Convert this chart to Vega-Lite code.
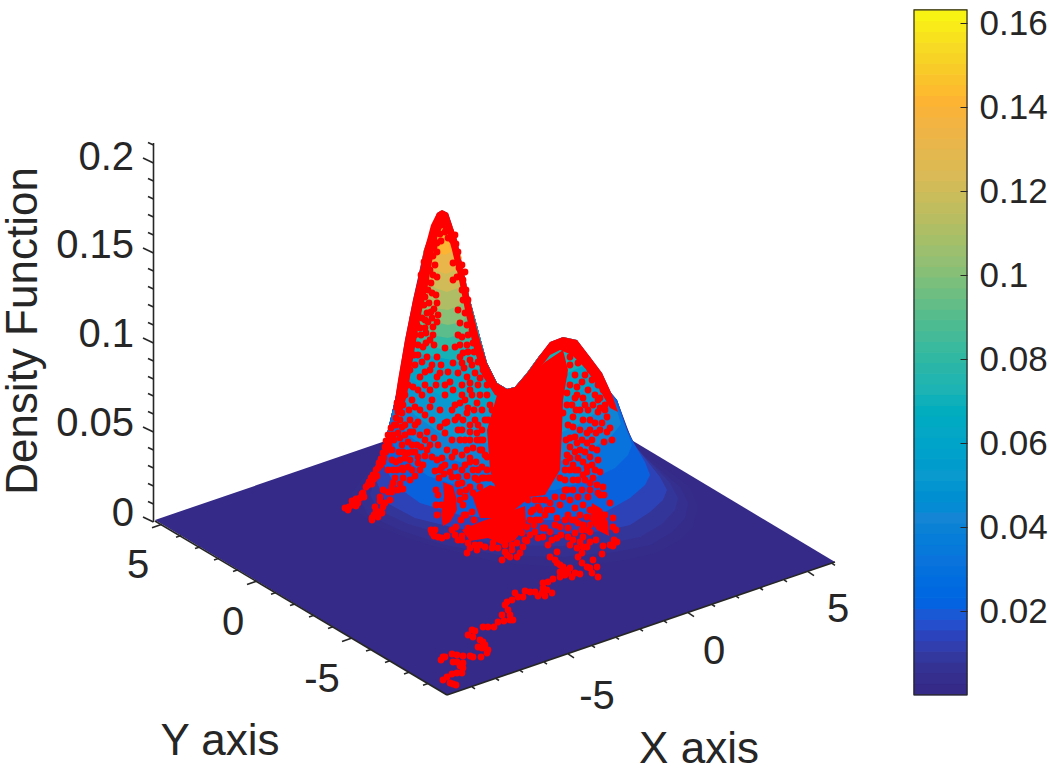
{"$schema":"https://vega.github.io/schema/vega-lite/v6.json","padding":0,"spacing":0,"background":"white","config":{"view":{"stroke":null},"font":"Liberation Sans","text":{"font":"Liberation Sans"},"concat":{"spacing":0}},
"datasets":{
"floor":[{"p":"floor","l":0.0003,"i":0,"u":155,"v":520},{"p":"floor","l":0.0003,"i":1,"u":447,"v":695},{"p":"floor","l":0.0003,"i":2,"u":835,"v":562},{"p":"floor","l":0.0003,"i":3,"u":543,"v":387},
{"p":"a","l":0.0015,"i":0,"u":352,"v":492},{"p":"a","l":0.0015,"i":1,"u":350,"v":503},{"p":"a","l":0.0015,"i":2,"u":358,"v":512},{"p":"a","l":0.0015,"i":3,"u":375,"v":525},{"p":"a","l":0.0015,"i":4,"u":407,"v":538},{"p":"a","l":0.0015,"i":5,"u":430,"v":545},{"p":"a","l":0.0015,"i":6,"u":500,"v":563},{"p":"a","l":0.0015,"i":7,"u":560,"v":567},{"p":"a","l":0.0015,"i":8,"u":620,"v":561},{"p":"a","l":0.0015,"i":9,"u":657,"v":553},{"p":"a","l":0.0015,"i":10,"u":680,"v":540},{"p":"a","l":0.0015,"i":11,"u":693,"v":527},{"p":"a","l":0.0015,"i":12,"u":698,"v":507},{"p":"a","l":0.0015,"i":13,"u":690,"v":487},{"p":"a","l":0.0015,"i":14,"u":667,"v":470},{"p":"a","l":0.0015,"i":15,"u":645,"v":455},{"p":"a","l":0.0015,"i":16,"u":635,"v":445},{"p":"a","l":0.0015,"i":17,"u":623,"v":420},{"p":"a","l":0.0015,"i":18,"u":613,"v":397},{"p":"a","l":0.0015,"i":19,"u":602,"v":373},{"p":"a","l":0.0015,"i":20,"u":590,"v":357},{"p":"a","l":0.0015,"i":21,"u":577,"v":340},{"p":"a","l":0.0015,"i":22,"u":563,"v":337},{"p":"a","l":0.0015,"i":23,"u":550,"v":342},{"p":"a","l":0.0015,"i":24,"u":540,"v":355},{"p":"a","l":0.0015,"i":25,"u":527,"v":373},{"p":"a","l":0.0015,"i":26,"u":515,"v":387},{"p":"a","l":0.0015,"i":27,"u":507,"v":389},{"p":"a","l":0.0015,"i":28,"u":497,"v":383},{"p":"a","l":0.0015,"i":29,"u":487,"v":363},{"p":"a","l":0.0015,"i":30,"u":478,"v":333},{"p":"a","l":0.0015,"i":31,"u":470,"v":300},{"p":"a","l":0.0015,"i":32,"u":457,"v":240},{"p":"a","l":0.0015,"i":33,"u":448,"v":213},{"p":"a","l":0.0015,"i":34,"u":442,"v":210},{"p":"a","l":0.0015,"i":35,"u":437,"v":213},{"p":"a","l":0.0015,"i":36,"u":424,"v":250},{"p":"a","l":0.0015,"i":37,"u":413,"v":300},{"p":"a","l":0.0015,"i":38,"u":405,"v":340},{"p":"a","l":0.0015,"i":39,"u":395,"v":400},{"p":"a","l":0.0015,"i":40,"u":385,"v":442},{"p":"a","l":0.0015,"i":41,"u":370,"v":470},
{"p":"b","l":0.004,"i":0,"u":360,"v":500},{"p":"b","l":0.004,"i":1,"u":368,"v":515},{"p":"b","l":0.004,"i":2,"u":400,"v":530},{"p":"b","l":0.004,"i":3,"u":445,"v":545},{"p":"b","l":0.004,"i":4,"u":500,"v":555},{"p":"b","l":0.004,"i":5,"u":560,"v":557},{"p":"b","l":0.004,"i":6,"u":615,"v":552},{"p":"b","l":0.004,"i":7,"u":650,"v":545},{"p":"b","l":0.004,"i":8,"u":672,"v":532},{"p":"b","l":0.004,"i":9,"u":685,"v":518},{"p":"b","l":0.004,"i":10,"u":688,"v":503},{"p":"b","l":0.004,"i":11,"u":680,"v":487},{"p":"b","l":0.004,"i":12,"u":660,"v":470},{"p":"b","l":0.004,"i":13,"u":642,"v":455},{"p":"b","l":0.004,"i":14,"u":633,"v":443},{"p":"b","l":0.004,"i":15,"u":617,"v":400},{"p":"b","l":0.004,"i":16,"u":563,"v":337},{"p":"b","l":0.004,"i":17,"u":540,"v":355},{"p":"b","l":0.004,"i":18,"u":527,"v":373},{"p":"b","l":0.004,"i":19,"u":515,"v":387},{"p":"b","l":0.004,"i":20,"u":507,"v":389},{"p":"b","l":0.004,"i":21,"u":497,"v":383},{"p":"b","l":0.004,"i":22,"u":487,"v":363},{"p":"b","l":0.004,"i":23,"u":470,"v":300},{"p":"b","l":0.004,"i":24,"u":442,"v":210},{"p":"b","l":0.004,"i":25,"u":395,"v":400},{"p":"b","l":0.004,"i":26,"u":385,"v":442},{"p":"b","l":0.004,"i":27,"u":372,"v":472},
{"p":"c","l":0.007,"i":0,"u":370,"v":495},{"p":"c","l":0.007,"i":1,"u":378,"v":510},{"p":"c","l":0.007,"i":2,"u":408,"v":524},{"p":"c","l":0.007,"i":3,"u":450,"v":536},{"p":"c","l":0.007,"i":4,"u":500,"v":545},{"p":"c","l":0.007,"i":5,"u":560,"v":546},{"p":"c","l":0.007,"i":6,"u":610,"v":543},{"p":"c","l":0.007,"i":7,"u":640,"v":537},{"p":"c","l":0.007,"i":8,"u":662,"v":524},{"p":"c","l":0.007,"i":9,"u":675,"v":510},{"p":"c","l":0.007,"i":10,"u":678,"v":498},{"p":"c","l":0.007,"i":11,"u":670,"v":483},{"p":"c","l":0.007,"i":12,"u":655,"v":467},{"p":"c","l":0.007,"i":13,"u":640,"v":452},{"p":"c","l":0.007,"i":14,"u":631,"v":440},{"p":"c","l":0.007,"i":15,"u":617,"v":400},{"p":"c","l":0.007,"i":16,"u":563,"v":337},{"p":"c","l":0.007,"i":17,"u":540,"v":355},{"p":"c","l":0.007,"i":18,"u":527,"v":373},{"p":"c","l":0.007,"i":19,"u":515,"v":387},{"p":"c","l":0.007,"i":20,"u":507,"v":389},{"p":"c","l":0.007,"i":21,"u":497,"v":383},{"p":"c","l":0.007,"i":22,"u":487,"v":363},{"p":"c","l":0.007,"i":23,"u":470,"v":300},{"p":"c","l":0.007,"i":24,"u":442,"v":210},{"p":"c","l":0.007,"i":25,"u":395,"v":400},{"p":"c","l":0.007,"i":26,"u":385,"v":442},
{"p":"d","l":0.012,"i":0,"u":376,"v":480},{"p":"d","l":0.012,"i":1,"u":385,"v":502},{"p":"d","l":0.012,"i":2,"u":415,"v":518},{"p":"d","l":0.012,"i":3,"u":455,"v":528},{"p":"d","l":0.012,"i":4,"u":505,"v":534},{"p":"d","l":0.012,"i":5,"u":560,"v":534},{"p":"d","l":0.012,"i":6,"u":605,"v":531},{"p":"d","l":0.012,"i":7,"u":630,"v":525},{"p":"d","l":0.012,"i":8,"u":650,"v":512},{"p":"d","l":0.012,"i":9,"u":663,"v":500},{"p":"d","l":0.012,"i":10,"u":667,"v":490},{"p":"d","l":0.012,"i":11,"u":660,"v":477},{"p":"d","l":0.012,"i":12,"u":648,"v":462},{"p":"d","l":0.012,"i":13,"u":636,"v":447},{"p":"d","l":0.012,"i":14,"u":628,"v":435},{"p":"d","l":0.012,"i":15,"u":617,"v":400},{"p":"d","l":0.012,"i":16,"u":563,"v":337},{"p":"d","l":0.012,"i":17,"u":540,"v":355},{"p":"d","l":0.012,"i":18,"u":527,"v":373},{"p":"d","l":0.012,"i":19,"u":515,"v":387},{"p":"d","l":0.012,"i":20,"u":507,"v":389},{"p":"d","l":0.012,"i":21,"u":497,"v":383},{"p":"d","l":0.012,"i":22,"u":487,"v":363},{"p":"d","l":0.012,"i":23,"u":470,"v":300},{"p":"d","l":0.012,"i":24,"u":442,"v":210},{"p":"d","l":0.012,"i":25,"u":395,"v":400},
{"p":"e","l":0.02,"i":0,"u":381,"v":460},{"p":"e","l":0.02,"i":1,"u":395,"v":485},{"p":"e","l":0.02,"i":2,"u":420,"v":503},{"p":"e","l":0.02,"i":3,"u":460,"v":515},{"p":"e","l":0.02,"i":4,"u":505,"v":520},{"p":"e","l":0.02,"i":5,"u":555,"v":520},{"p":"e","l":0.02,"i":6,"u":605,"v":512},{"p":"e","l":0.02,"i":7,"u":630,"v":498},{"p":"e","l":0.02,"i":8,"u":645,"v":485},{"p":"e","l":0.02,"i":9,"u":650,"v":475},{"p":"e","l":0.02,"i":10,"u":645,"v":462},{"p":"e","l":0.02,"i":11,"u":636,"v":447},{"p":"e","l":0.02,"i":12,"u":627,"v":430},{"p":"e","l":0.02,"i":13,"u":617,"v":400},{"p":"e","l":0.02,"i":14,"u":563,"v":337},{"p":"e","l":0.02,"i":15,"u":540,"v":355},{"p":"e","l":0.02,"i":16,"u":527,"v":373},{"p":"e","l":0.02,"i":17,"u":515,"v":387},{"p":"e","l":0.02,"i":18,"u":507,"v":389},{"p":"e","l":0.02,"i":19,"u":497,"v":383},{"p":"e","l":0.02,"i":20,"u":487,"v":363},{"p":"e","l":0.02,"i":21,"u":470,"v":300},{"p":"e","l":0.02,"i":22,"u":442,"v":210},{"p":"e","l":0.02,"i":23,"u":395,"v":400},
{"p":"f","l":0.03,"i":0,"u":387,"v":435},{"p":"f","l":0.03,"i":1,"u":402,"v":458},{"p":"f","l":0.03,"i":2,"u":428,"v":476},{"p":"f","l":0.03,"i":3,"u":465,"v":488},{"p":"f","l":0.03,"i":4,"u":510,"v":492},{"p":"f","l":0.03,"i":5,"u":555,"v":490},{"p":"f","l":0.03,"i":6,"u":590,"v":480},{"p":"f","l":0.03,"i":7,"u":615,"v":468},{"p":"f","l":0.03,"i":8,"u":628,"v":455},{"p":"f","l":0.03,"i":9,"u":632,"v":445},{"p":"f","l":0.03,"i":10,"u":626,"v":428},{"p":"f","l":0.03,"i":11,"u":615,"v":400},{"p":"f","l":0.03,"i":12,"u":563,"v":337},{"p":"f","l":0.03,"i":13,"u":540,"v":355},{"p":"f","l":0.03,"i":14,"u":527,"v":373},{"p":"f","l":0.03,"i":15,"u":515,"v":387},{"p":"f","l":0.03,"i":16,"u":507,"v":389},{"p":"f","l":0.03,"i":17,"u":497,"v":383},{"p":"f","l":0.03,"i":18,"u":487,"v":363},{"p":"f","l":0.03,"i":19,"u":470,"v":300},{"p":"f","l":0.03,"i":20,"u":442,"v":210},{"p":"f","l":0.03,"i":21,"u":395,"v":400},
{"p":"g","l":0.04,"i":0,"u":392,"v":415},{"p":"g","l":0.04,"i":1,"u":408,"v":435},{"p":"g","l":0.04,"i":2,"u":435,"v":455},{"p":"g","l":0.04,"i":3,"u":470,"v":465},{"p":"g","l":0.04,"i":4,"u":510,"v":468},{"p":"g","l":0.04,"i":5,"u":550,"v":465},{"p":"g","l":0.04,"i":6,"u":585,"v":452},{"p":"g","l":0.04,"i":7,"u":610,"v":438},{"p":"g","l":0.04,"i":8,"u":621,"v":424},{"p":"g","l":0.04,"i":9,"u":613,"v":397},{"p":"g","l":0.04,"i":10,"u":563,"v":337},{"p":"g","l":0.04,"i":11,"u":540,"v":355},{"p":"g","l":0.04,"i":12,"u":527,"v":373},{"p":"g","l":0.04,"i":13,"u":515,"v":387},{"p":"g","l":0.04,"i":14,"u":507,"v":389},{"p":"g","l":0.04,"i":15,"u":497,"v":383},{"p":"g","l":0.04,"i":16,"u":487,"v":363},{"p":"g","l":0.04,"i":17,"u":470,"v":300},{"p":"g","l":0.04,"i":18,"u":442,"v":210},
{"p":"h","l":0.05,"i":0,"u":396,"v":395},{"p":"h","l":0.05,"i":1,"u":415,"v":415},{"p":"h","l":0.05,"i":2,"u":440,"v":433},{"p":"h","l":0.05,"i":3,"u":475,"v":442},{"p":"h","l":0.05,"i":4,"u":510,"v":445},{"p":"h","l":0.05,"i":5,"u":545,"v":440},{"p":"h","l":0.05,"i":6,"u":578,"v":425},{"p":"h","l":0.05,"i":7,"u":600,"v":410},{"p":"h","l":0.05,"i":8,"u":611,"v":395},{"p":"h","l":0.05,"i":9,"u":602,"v":373},{"p":"h","l":0.05,"i":10,"u":563,"v":337},{"p":"h","l":0.05,"i":11,"u":540,"v":355},{"p":"h","l":0.05,"i":12,"u":527,"v":373},{"p":"h","l":0.05,"i":13,"u":515,"v":387},{"p":"h","l":0.05,"i":14,"u":507,"v":389},{"p":"h","l":0.05,"i":15,"u":497,"v":383},{"p":"h","l":0.05,"i":16,"u":487,"v":363},{"p":"h","l":0.05,"i":17,"u":470,"v":300},{"p":"h","l":0.05,"i":18,"u":442,"v":210},
{"p":"j","l":0.06,"i":0,"u":401,"v":372},{"p":"j","l":0.06,"i":1,"u":420,"v":385},{"p":"j","l":0.06,"i":2,"u":450,"v":400},{"p":"j","l":0.06,"i":3,"u":480,"v":410},{"p":"j","l":0.06,"i":4,"u":510,"v":412},{"p":"j","l":0.06,"i":5,"u":540,"v":408},{"p":"j","l":0.06,"i":6,"u":570,"v":397},{"p":"j","l":0.06,"i":7,"u":590,"v":385},{"p":"j","l":0.06,"i":8,"u":600,"v":372},{"p":"j","l":0.06,"i":9,"u":590,"v":357},{"p":"j","l":0.06,"i":10,"u":563,"v":337},{"p":"j","l":0.06,"i":11,"u":540,"v":355},{"p":"j","l":0.06,"i":12,"u":527,"v":373},{"p":"j","l":0.06,"i":13,"u":515,"v":387},{"p":"j","l":0.06,"i":14,"u":507,"v":389},{"p":"j","l":0.06,"i":15,"u":497,"v":383},{"p":"j","l":0.06,"i":16,"u":487,"v":363},{"p":"j","l":0.06,"i":17,"u":470,"v":300},{"p":"j","l":0.06,"i":18,"u":442,"v":210},
{"p":"k","l":0.07,"i":0,"u":405,"v":352},{"p":"k","l":0.07,"i":1,"u":425,"v":355},{"p":"k","l":0.07,"i":2,"u":452,"v":360},{"p":"k","l":0.07,"i":3,"u":480,"v":370},{"p":"k","l":0.07,"i":4,"u":486,"v":362},{"p":"k","l":0.07,"i":5,"u":470,"v":300},{"p":"k","l":0.07,"i":6,"u":442,"v":210},{"p":"k","l":0.07,"i":7,"u":424,"v":250},
{"p":"k2","l":0.07,"i":0,"u":525,"v":375},{"p":"k2","l":0.07,"i":1,"u":545,"v":378},{"p":"k2","l":0.07,"i":2,"u":570,"v":372},{"p":"k2","l":0.07,"i":3,"u":592,"v":362},{"p":"k2","l":0.07,"i":4,"u":577,"v":340},{"p":"k2","l":0.07,"i":5,"u":563,"v":337},{"p":"k2","l":0.07,"i":6,"u":540,"v":355},
{"p":"m","l":0.08,"i":0,"u":410,"v":335},{"p":"m","l":0.08,"i":1,"u":425,"v":345},{"p":"m","l":0.08,"i":2,"u":445,"v":350},{"p":"m","l":0.08,"i":3,"u":470,"v":345},{"p":"m","l":0.08,"i":4,"u":480,"v":340},{"p":"m","l":0.08,"i":5,"u":470,"v":300},{"p":"m","l":0.08,"i":6,"u":442,"v":210},{"p":"m","l":0.08,"i":7,"u":424,"v":250},
{"p":"n","l":0.09,"i":0,"u":413,"v":322},{"p":"n","l":0.09,"i":1,"u":430,"v":335},{"p":"n","l":0.09,"i":2,"u":448,"v":338},{"p":"n","l":0.09,"i":3,"u":465,"v":333},{"p":"n","l":0.09,"i":4,"u":476,"v":328},{"p":"n","l":0.09,"i":5,"u":470,"v":300},{"p":"n","l":0.09,"i":6,"u":442,"v":210},{"p":"n","l":0.09,"i":7,"u":424,"v":250},
{"p":"o","l":0.1,"i":0,"u":417,"v":305},{"p":"o","l":0.1,"i":1,"u":435,"v":322},{"p":"o","l":0.1,"i":2,"u":448,"v":325},{"p":"o","l":0.1,"i":3,"u":462,"v":322},{"p":"o","l":0.1,"i":4,"u":472,"v":310},{"p":"o","l":0.1,"i":5,"u":442,"v":210},{"p":"o","l":0.1,"i":6,"u":424,"v":250},
{"p":"q","l":0.11,"i":0,"u":419,"v":290},{"p":"q","l":0.11,"i":1,"u":435,"v":308},{"p":"q","l":0.11,"i":2,"u":448,"v":310},{"p":"q","l":0.11,"i":3,"u":460,"v":305},{"p":"q","l":0.11,"i":4,"u":468,"v":290},{"p":"q","l":0.11,"i":5,"u":442,"v":210},{"p":"q","l":0.11,"i":6,"u":424,"v":250},
{"p":"r","l":0.12,"i":0,"u":422,"v":272},{"p":"r","l":0.12,"i":1,"u":435,"v":288},{"p":"r","l":0.12,"i":2,"u":447,"v":292},{"p":"r","l":0.12,"i":3,"u":458,"v":288},{"p":"r","l":0.12,"i":4,"u":465,"v":275},{"p":"r","l":0.12,"i":5,"u":442,"v":210},
{"p":"s","l":0.13,"i":0,"u":425,"v":255},{"p":"s","l":0.13,"i":1,"u":435,"v":270},{"p":"s","l":0.13,"i":2,"u":446,"v":274},{"p":"s","l":0.13,"i":3,"u":456,"v":270},{"p":"s","l":0.13,"i":4,"u":462,"v":258},{"p":"s","l":0.13,"i":5,"u":442,"v":210},
{"p":"t","l":0.14,"i":0,"u":428,"v":240},{"p":"t","l":0.14,"i":1,"u":436,"v":252},{"p":"t","l":0.14,"i":2,"u":445,"v":255},{"p":"t","l":0.14,"i":3,"u":455,"v":250},{"p":"t","l":0.14,"i":4,"u":458,"v":243},{"p":"t","l":0.14,"i":5,"u":442,"v":210},
{"p":"w","l":0.15,"i":0,"u":432,"v":225},{"p":"w","l":0.15,"i":1,"u":438,"v":235},{"p":"w","l":0.15,"i":2,"u":445,"v":237},{"p":"w","l":0.15,"i":3,"u":452,"v":232},{"p":"w","l":0.15,"i":4,"u":453,"v":228},{"p":"w","l":0.15,"i":5,"u":442,"v":210}],
"mass":[{"p":"rim","i":0,"u":393,"v":410},{"p":"rim","i":1,"u":395,"v":400},{"p":"rim","i":2,"u":398,"v":380},{"p":"rim","i":3,"u":405,"v":340},{"p":"rim","i":4,"u":413,"v":300},{"p":"rim","i":5,"u":419,"v":275},{"p":"rim","i":6,"u":424,"v":250},{"p":"rim","i":7,"u":427,"v":240},{"p":"rim","i":8,"u":431,"v":225},{"p":"rim","i":9,"u":437,"v":213},{"p":"rim","i":10,"u":442,"v":210},{"p":"rim","i":11,"u":448,"v":213},{"p":"rim","i":12,"u":452,"v":225},{"p":"rim","i":13,"u":457,"v":240},{"p":"rim","i":14,"u":463,"v":270},{"p":"rim","i":15,"u":470,"v":300},{"p":"rim","i":16,"u":478,"v":333},{"p":"rim","i":17,"u":487,"v":363},{"p":"rim","i":18,"u":497,"v":383},{"p":"rim","i":19,"u":507,"v":389},{"p":"rim","i":20,"u":515,"v":387},{"p":"rim","i":21,"u":527,"v":373},{"p":"rim","i":22,"u":540,"v":355},{"p":"rim","i":23,"u":550,"v":342},{"p":"rim","i":24,"u":563,"v":337},{"p":"rim","i":25,"u":577,"v":340},{"p":"rim","i":26,"u":590,"v":357},{"p":"rim","i":27,"u":602,"v":373},{"p":"rim","i":28,"u":613,"v":397},{"p":"rim","i":29,"u":618,"v":412},{"p":"rim","i":30,"u":610,"v":408},{"p":"rim","i":31,"u":597,"v":385},{"p":"rim","i":32,"u":585,"v":368},{"p":"rim","i":33,"u":572,"v":355},{"p":"rim","i":34,"u":560,"v":350},{"p":"rim","i":35,"u":550,"v":355},{"p":"rim","i":36,"u":540,"v":368},{"p":"rim","i":37,"u":528,"v":385},{"p":"rim","i":38,"u":515,"v":397},{"p":"rim","i":39,"u":507,"v":400},{"p":"rim","i":40,"u":495,"v":395},{"p":"rim","i":41,"u":482,"v":375},{"p":"rim","i":42,"u":473,"v":345},{"p":"rim","i":43,"u":465,"v":310},{"p":"rim","i":44,"u":458,"v":275},{"p":"rim","i":45,"u":452,"v":250},{"p":"rim","i":46,"u":447,"v":232},{"p":"rim","i":47,"u":442,"v":228},{"p":"rim","i":48,"u":436,"v":240},{"p":"rim","i":49,"u":432,"v":262},{"p":"rim","i":50,"u":428,"v":285},{"p":"rim","i":51,"u":422,"v":310},{"p":"rim","i":52,"u":417,"v":335},{"p":"rim","i":53,"u":412,"v":365},{"p":"rim","i":54,"u":407,"v":395},{"p":"rim","i":55,"u":402,"v":412},
{"p":"core","i":0,"u":497,"v":395},{"p":"core","i":1,"u":520,"v":385},{"p":"core","i":2,"u":545,"v":362},{"p":"core","i":3,"u":563,"v":350},{"p":"core","i":4,"u":568,"v":370},{"p":"core","i":5,"u":563,"v":400},{"p":"core","i":6,"u":562,"v":430},{"p":"core","i":7,"u":560,"v":470},{"p":"core","i":8,"u":545,"v":495},{"p":"core","i":9,"u":520,"v":498},{"p":"core","i":10,"u":497,"v":493},{"p":"core","i":11,"u":490,"v":470},{"p":"core","i":12,"u":487,"v":430},
{"p":"ma","i":0,"u":443,"v":482},{"p":"ma","i":1,"u":453,"v":486},{"p":"ma","i":2,"u":456,"v":497},{"p":"ma","i":3,"u":457,"v":510},{"p":"ma","i":4,"u":450,"v":522},{"p":"ma","i":5,"u":443,"v":526},{"p":"ma","i":6,"u":441,"v":515},{"p":"ma","i":7,"u":444,"v":497},
{"p":"mb","i":0,"u":462,"v":530},{"p":"mb","i":1,"u":480,"v":522},{"p":"mb","i":2,"u":500,"v":515},{"p":"mb","i":3,"u":525,"v":506},{"p":"mb","i":4,"u":526,"v":526},{"p":"mb","i":5,"u":515,"v":540},{"p":"mb","i":6,"u":503,"v":545},{"p":"mb","i":7,"u":488,"v":538},{"p":"mb","i":8,"u":470,"v":541},
{"p":"mc","i":0,"u":472,"v":495},{"p":"mc","i":1,"u":490,"v":485},{"p":"mc","i":2,"u":530,"v":497},{"p":"mc","i":3,"u":505,"v":518},{"p":"mc","i":4,"u":480,"v":518},
{"p":"md","i":0,"u":592,"v":503},{"p":"md","i":1,"u":602,"v":509},{"p":"md","i":2,"u":608,"v":522},{"p":"md","i":3,"u":609,"v":536},{"p":"md","i":4,"u":597,"v":530},{"p":"md","i":5,"u":590,"v":520}],
"pts":[{"u":437,"v":243},{"u":448,"v":238},{"u":452,"v":240},{"u":458,"v":252},{"u":453,"v":263},{"u":457,"v":277},{"u":463,"v":280},{"u":453,"v":280},{"u":462,"v":290},{"u":437,"v":277},{"u":430,"v":270},{"u":432,"v":293},{"u":425,"v":297},{"u":437,"v":303},{"u":438,"v":315},{"u":427,"v":313},{"u":458,"v":310},{"u":463,"v":300},{"u":468,"v":300},{"u":465,"v":313},{"u":460,"v":323},{"u":467,"v":325},{"u":437,"v":322},{"u":433,"v":327},{"u":413,"v":330},{"u":430,"v":340},{"u":423,"v":347},{"u":413,"v":343},{"u":410,"v":347},{"u":418,"v":355},{"u":427,"v":357},{"u":437,"v":357},{"u":445,"v":348},{"u":455,"v":347},{"u":462,"v":337},{"u":463,"v":353},{"u":473,"v":343},{"u":470,"v":360},{"u":460,"v":357},{"u":453,"v":363},{"u":462,"v":363},{"u":458,"v":373},{"u":450,"v":382},{"u":453,"v":390},{"u":467,"v":377},{"u":475,"v":373},{"u":483,"v":370},{"u":430,"v":370},{"u":420,"v":377},{"u":410,"v":370},{"u":413,"v":387},{"u":437,"v":377},{"u":430,"v":390},{"u":407,"v":360},{"u":405,"v":373},{"u":440,"v":373},{"u":424,"v":262},{"u":428,"v":258},{"u":421,"v":275},{"u":426,"v":280},{"u":431,"v":283},{"u":420,"v":288},{"u":424,"v":305},{"u":429,"v":303},{"u":434,"v":309},{"u":419,"v":300},{"u":417,"v":312},{"u":422,"v":318},{"u":428,"v":322},{"u":433,"v":335},{"u":417,"v":325},{"u":421,"v":335},{"u":426,"v":333},{"u":413,"v":318},{"u":435,"v":232},{"u":440,"v":234},{"u":445,"v":232},{"u":450,"v":231},{"u":455,"v":235},{"u":434,"v":240},{"u":441,"v":241},{"u":456,"v":244},{"u":433,"v":256},{"u":437,"v":252},{"u":459,"v":268},{"u":462,"v":265},{"u":465,"v":272},{"u":466,"v":290},{"u":469,"v":310},{"u":472,"v":330},{"u":468,"v":335},{"u":474,"v":352},{"u":478,"v":362},
{"u":430,"v":250},{"u":434,"v":247},{"u":427,"v":268},{"u":435,"v":265},{"u":425,"v":275},{"u":433,"v":275},{"u":428,"v":290},{"u":436,"v":295},{"u":422,"v":295},{"u":421,"v":305},{"u":431,"v":312},{"u":425,"v":320},{"u":420,"v":328},{"u":415,"v":335},{"u":425,"v":328},{"u":432,"v":318},{"u":418,"v":345},{"u":426,"v":343},{"u":434,"v":345},{"u":414,"v":355},{"u":422,"v":362},{"u":432,"v":365},{"u":441,"v":365},{"u":448,"v":372},{"u":415,"v":365},{"u":425,"v":372},{"u":436,"v":385},{"u":445,"v":385},{"u":408,"v":385},{"u":418,"v":390},{"u":425,"v":385},{"u":403,"v":385},{"u":460,"v":345},{"u":467,"v":345},{"u":468,"v":352},{"u":458,"v":335},{"u":464,"v":368},{"u":472,"v":365},{"u":480,"v":378},{"u":487,"v":385},{"u":478,"v":385},{"u":470,"v":383},{"u":462,"v":385},{"u":490,"v":405},{"u":458,"v":262},{"u":461,"v":275},
{"u":397,"v":403},{"u":402,"v":413},{"u":402,"v":427},{"u":410,"v":420},{"u":415,"v":407},{"u":430,"v":407},{"u":440,"v":410},{"u":425,"v":415},{"u":418,"v":422},{"u":427,"v":432},{"u":413,"v":432},{"u":410,"v":432},{"u":400,"v":438},{"u":408,"v":442},{"u":417,"v":445},{"u":425,"v":440},{"u":427,"v":450},{"u":408,"v":453},{"u":400,"v":460},{"u":410,"v":460},{"u":418,"v":457},{"u":432,"v":457},{"u":437,"v":460},{"u":442,"v":458},{"u":447,"v":450},{"u":455,"v":452},{"u":452,"v":457},{"u":440,"v":427},{"u":445,"v":423},{"u":445,"v":433},{"u":447,"v":422},{"u":455,"v":405},{"u":460,"v":403},{"u":458,"v":417},{"u":467,"v":413},{"u":468,"v":408},{"u":477,"v":403},{"u":475,"v":420},{"u":477,"v":433},{"u":470,"v":440},{"u":473,"v":448},{"u":462,"v":455},{"u":467,"v":450},{"u":435,"v":471},{"u":442,"v":467},{"u":455,"v":467},{"u":465,"v":465},{"u":450,"v":472},{"u":458,"v":477},{"u":467,"v":476},{"u":473,"v":470},{"u":482,"v":467},{"u":487,"v":457},{"u":480,"v":450},{"u":497,"v":472},{"u":403,"v":489},{"u":410,"v":480},{"u":415,"v":476},{"u":420,"v":470},{"u":395,"v":478},{"u":393,"v":483},
{"u":403,"v":405},{"u":409,"v":410},{"u":420,"v":410},{"u":405,"v":425},{"u":415,"v":425},{"u":432,"v":420},{"u":420,"v":435},{"u":434,"v":438},{"u":405,"v":435},{"u":412,"v":445},{"u":402,"v":468},{"u":415,"v":452},{"u":438,"v":445},{"u":430,"v":445},{"u":452,"v":440},{"u":460,"v":440},{"u":458,"v":430},{"u":455,"v":420},{"u":452,"v":410},{"u":463,"v":420},{"u":474,"v":410},{"u":480,"v":440},{"u":470,"v":432},{"u":485,"v":420},{"u":482,"v":430},{"u":462,"v":470},{"u":470,"v":462},{"u":445,"v":465},{"u":440,"v":470},
{"u":439,"v":478},{"u":444,"v":474},{"u":452,"v":477},{"u":458,"v":484},{"u":460,"v":492},{"u":436,"v":505},{"u":438,"v":495},{"u":436,"v":490},{"u":437,"v":515},{"u":441,"v":505},{"u":463,"v":505},{"u":464,"v":515},{"u":461,"v":520},{"u":431,"v":530},{"u":434,"v":536},{"u":442,"v":538},{"u":452,"v":530},{"u":456,"v":527},{"u":462,"v":536},{"u":468,"v":528},{"u":474,"v":520},{"u":466,"v":515},{"u":472,"v":512},{"u":466,"v":490},{"u":478,"v":480},{"u":488,"v":478},{"u":482,"v":478},{"u":500,"v":497},{"u":540,"v":500},{"u":535,"v":500},{"u":545,"v":500},{"u":528,"v":500},{"u":531,"v":512},{"u":536,"v":520},{"u":534,"v":525},{"u":525,"v":540},{"u":512,"v":545},{"u":498,"v":548},{"u":492,"v":548},{"u":485,"v":547},{"u":475,"v":545},{"u":468,"v":543},{"u":462,"v":540},{"u":505,"v":552},{"u":520,"v":553},{"u":527,"v":541},{"u":510,"v":557},
{"u":540,"v":510},{"u":545,"v":515},{"u":552,"v":510},{"u":555,"v":525},{"u":565,"v":520},{"u":572,"v":520},{"u":580,"v":515},{"u":583,"v":505},{"u":578,"v":497},{"u":570,"v":500},{"u":567,"v":490},{"u":555,"v":497},{"u":583,"v":525},{"u":575,"v":520},{"u":590,"v":490},{"u":598,"v":493},{"u":604,"v":495},{"u":610,"v":503},{"u":600,"v":495},{"u":616,"v":530},{"u":614,"v":540},{"u":610,"v":545},{"u":603,"v":546},{"u":596,"v":540},{"u":590,"v":532},{"u":600,"v":527},{"u":595,"v":515},{"u":605,"v":515},{"u":582,"v":530},{"u":545,"v":528},{"u":538,"v":538},{"u":552,"v":540},{"u":561,"v":535},{"u":573,"v":540},{"u":590,"v":542},{"u":570,"v":545},{"u":580,"v":542},{"u":548,"v":545},{"u":575,"v":470},{"u":583,"v":462},{"u":592,"v":465},{"u":600,"v":472},{"u":598,"v":460},{"u":565,"v":470},{"u":565,"v":490},{"u":585,"v":480},{"u":578,"v":480},{"u":573,"v":465},{"u":583,"v":475},{"u":566,"v":462},{"u":575,"v":452},{"u":585,"v":452},{"u":570,"v":438},{"u":568,"v":425},{"u":576,"v":410},{"u":585,"v":405},{"u":598,"v":400},{"u":605,"v":410},{"u":590,"v":430},{"u":592,"v":448},{"u":604,"v":442},{"u":610,"v":428},{"u":577,"v":395},{"u":570,"v":385},{"u":582,"v":382},{"u":575,"v":375},{"u":590,"v":370},{"u":598,"v":385},{"u":605,"v":405},{"u":492,"v":410},{"u":488,"v":420},{"u":482,"v":450},{"u":477,"v":440},{"u":487,"v":470},{"u":484,"v":478},{"u":490,"v":478},{"u":478,"v":470},{"u":475,"v":478},{"u":495,"v":480},
{"u":570,"v":357},{"u":578,"v":363},{"u":592,"v":380},{"u":597,"v":377},{"u":577,"v":387},{"u":588,"v":390},{"u":603,"v":390},{"u":607,"v":395},{"u":567,"v":393},{"u":593,"v":405},{"u":600,"v":408},{"u":607,"v":417},{"u":595,"v":423},{"u":602,"v":423},{"u":607,"v":432},{"u":612,"v":440},{"u":588,"v":410},{"u":580,"v":410},{"u":573,"v":417},{"u":563,"v":413},{"u":583,"v":420},{"u":587,"v":433},{"u":573,"v":427},{"u":580,"v":430},{"u":597,"v":450},{"u":590,"v":457},{"u":587,"v":443},{"u":577,"v":443},{"u":580,"v":450},{"u":570,"v":447},{"u":570,"v":458},{"u":578,"v":458},{"u":587,"v":467},{"u":595,"v":470},{"u":593,"v":478},{"u":587,"v":472},{"u":578,"v":470},{"u":570,"v":470},{"u":573,"v":480},{"u":565,"v":480},{"u":560,"v":478},{"u":597,"v":485},{"u":603,"v":487},{"u":590,"v":483},{"u":582,"v":490},{"u":573,"v":490},{"u":563,"v":497},{"u":575,"v":508},{"u":560,"v":505},{"u":550,"v":503},{"u":547,"v":510},{"u":557,"v":518},{"u":568,"v":515},{"u":588,"v":497},{"u":613,"v":518},{"u":613,"v":527},{"u":590,"v":510},{"u":587,"v":517},{"u":590,"v":525},{"u":587,"v":530},{"u":578,"v":523},{"u":568,"v":528},{"u":560,"v":527},{"u":550,"v":532},{"u":543,"v":528},{"u":535,"v":532},{"u":530,"v":520},{"u":540,"v":520},{"u":533,"v":510},{"u":543,"v":537},{"u":557,"v":538},{"u":568,"v":537},{"u":575,"v":533},{"u":583,"v":537},{"u":617,"v":542},{"u":613,"v":546},{"u":602,"v":554},{"u":593,"v":560},{"u":597,"v":567},{"u":598,"v":577},{"u":592,"v":573},{"u":583,"v":547},{"u":577,"v":548},{"u":578,"v":557},{"u":587,"v":547},{"u":582,"v":563},{"u":587,"v":567},{"u":550,"v":557},{"u":557,"v":563},{"u":563,"v":567},{"u":568,"v":573},{"u":560,"v":572},{"u":557,"v":552},
{"u":432,"v":533},{"u":438,"v":537},{"u":447,"v":536},{"u":455,"v":535},{"u":458,"v":540},{"u":467,"v":553},{"u":470,"v":548},{"u":477,"v":550},{"u":480,"v":545},{"u":493,"v":543},{"u":505,"v":545},{"u":502,"v":560},{"u":507,"v":555},{"u":512,"v":550},{"u":517,"v":557},{"u":517,"v":543},{"u":523,"v":547},{"u":527,"v":527},{"u":522,"v":533},{"u":530,"v":535},{"u":538,"v":507},{"u":462,"v":483},{"u":460,"v":500},{"u":465,"v":497},{"u":470,"v":487},{"u":480,"v":487},{"u":473,"v":493},{"u":435,"v":530},
{"u":345,"v":508},{"u":349,"v":507},{"u":352,"v":505},{"u":356,"v":506},{"u":352,"v":501},{"u":356,"v":499},{"u":360,"v":498},{"u":364,"v":497},{"u":363,"v":493},{"u":366,"v":487},{"u":369,"v":482},{"u":371,"v":478},{"u":373,"v":475},{"u":376,"v":470},{"u":379,"v":463},{"u":381,"v":459},{"u":383,"v":453},{"u":385,"v":447},{"u":386,"v":441},{"u":388,"v":435},{"u":391,"v":428},{"u":389,"v":445},{"u":386,"v":452},{"u":383,"v":462},{"u":377,"v":476},{"u":372,"v":484},{"u":372,"v":518},{"u":374,"v":515},{"u":378,"v":517},{"u":376,"v":511},{"u":382,"v":513},{"u":383,"v":507},{"u":375,"v":507},{"u":380,"v":501},{"u":390,"v":500},{"u":380,"v":497},{"u":383,"v":490},{"u":392,"v":492},{"u":397,"v":470},{"u":408,"v":467},{"u":403,"v":478},{"u":399,"v":452},{"u":392,"v":460},{"u":388,"v":470},{"u":348,"v":510},{"u":354,"v":503},{"u":358,"v":503},{"u":362,"v":494},{"u":368,"v":485},{"u":374,"v":479},{"u":378,"v":468},{"u":381,"v":465},{"u":384,"v":458},{"u":387,"v":450},{"u":390,"v":440},{"u":394,"v":425},{"u":396,"v":418},{"u":393,"v":435},{"u":372,"v":520},{"u":379,"v":512},{"u":385,"v":503},{"u":388,"v":492},{"u":392,"v":487},{"u":398,"v":490},{"u":400,"v":484},{"u":393,"v":470},{"u":396,"v":462},{"u":403,"v":470},{"u":405,"v":458},{"u":412,"v":470},{"u":412,"v":452},{"u":418,"v":463},{"u":423,"v":465},{"u":425,"v":456},{"u":421,"v":447},{"u":402,"v":445},{"u":403,"v":452},{"u":398,"v":412},{"u":396,"v":425},{"u":400,"v":420},{"u":394,"v":440},{"u":398,"v":433},{"u":392,"v":450},
{"u":482,"v":410},{"u":478,"v":425},{"u":483,"v":440},{"u":485,"v":455},{"u":476,"v":462},{"u":470,"v":458},{"u":465,"v":440},{"u":462,"v":430},{"u":470,"v":425},{"u":465,"v":400},{"u":472,"v":395},{"u":480,"v":395},{"u":487,"v":395},{"u":470,"v":390},{"u":462,"v":395},{"u":445,"v":395},{"u":432,"v":400},{"u":422,"v":395},{"u":412,"v":400},{"u":405,"v":395},{"u":567,"v":405},{"u":572,"v":405},{"u":566,"v":440},{"u":567,"v":455},{"u":575,"v":437},{"u":582,"v":440},{"u":592,"v":440},{"u":596,"v":433},{"u":590,"v":420},{"u":600,"v":430},{"u":575,"v":398},{"u":583,"v":398},{"u":595,"v":395},{"u":600,"v":398},{"u":598,"v":412},{"u":585,"v":375},{"u":564,"v":375},{"u":560,"v":385},{"u":570,"v":365},{"u":587,"v":365},
{"u":453,"v":684},{"u":450,"v":683},{"u":456,"v":685},{"u":443,"v":680},{"u":447,"v":677},{"u":452,"v":674},{"u":457,"v":673},{"u":462,"v":673},{"u":463,"v":668},{"u":460,"v":666},{"u":463,"v":663},{"u":457,"v":662},{"u":453,"v":662},{"u":443,"v":657},{"u":441,"v":660},{"u":445,"v":657},{"u":452,"v":654},{"u":457,"v":655},{"u":463,"v":656},{"u":470,"v":656},{"u":473,"v":657},{"u":481,"v":657},{"u":487,"v":653},{"u":488,"v":650},{"u":482,"v":648},{"u":478,"v":647},{"u":483,"v":642},{"u":485,"v":645},{"u":480,"v":640},{"u":473,"v":637},{"u":468,"v":635},{"u":472,"v":630},{"u":475,"v":631},{"u":483,"v":627},{"u":488,"v":627},{"u":494,"v":627},{"u":498,"v":622},{"u":502,"v":615},{"u":504,"v":621},{"u":510,"v":620},{"u":513,"v":620},{"u":510,"v":615},{"u":508,"v":610},{"u":505,"v":605},{"u":507,"v":602},{"u":512,"v":600},{"u":518,"v":597},{"u":523,"v":597},{"u":515,"v":593},{"u":525,"v":591},{"u":530,"v":592},{"u":535,"v":592},{"u":538,"v":596},{"u":542,"v":593},{"u":545,"v":596},{"u":543,"v":588},{"u":547,"v":590},{"u":552,"v":593},{"u":543,"v":583},{"u":548,"v":582},{"u":553,"v":579},{"u":560,"v":577},{"u":555,"v":560},{"u":560,"v":565},{"u":565,"v":570},{"u":570,"v":568},{"u":575,"v":573},{"u":565,"v":575},{"u":572,"v":577},{"u":580,"v":574},{"u":582,"v":553},{"u":590,"v":568}],
"rules":[{"k":"e","u":155,"v":521,"u2":447,"v2":695},{"k":"e","u":447,"v":695,"u2":835,"v2":562},{"k":"e","u":153.5,"v":143,"u2":153.5,"v2":522},
{"u":153.5,"v":522,"u2":143,"v2":517},{"u":153.5,"v":432,"u2":143,"v2":427},{"u":153.5,"v":343,"u2":143,"v2":338},{"u":153.5,"v":253,"u2":143,"v2":248},{"u":153.5,"v":163,"u2":143,"v2":158},
{"u":153.5,"v":504,"u2":148,"v2":501.5},{"u":153.5,"v":486,"u2":148,"v2":483.5},{"u":153.5,"v":468,"u2":148,"v2":465.5},{"u":153.5,"v":450,"u2":148,"v2":447.5},{"u":153.5,"v":414,"u2":148,"v2":411.5},{"u":153.5,"v":396,"u2":148,"v2":393.5},{"u":153.5,"v":379,"u2":148,"v2":376.5},{"u":153.5,"v":361,"u2":148,"v2":358.5},{"u":153.5,"v":325,"u2":148,"v2":322.5},{"u":153.5,"v":307,"u2":148,"v2":304.5},{"u":153.5,"v":289,"u2":148,"v2":286.5},{"u":153.5,"v":271,"u2":148,"v2":268.5},{"u":153.5,"v":235,"u2":148,"v2":232.5},{"u":153.5,"v":217,"u2":148,"v2":214.5},{"u":153.5,"v":199,"u2":148,"v2":196.5},{"u":153.5,"v":181,"u2":148,"v2":178.5},{"u":153.5,"v":145,"u2":148,"v2":142.5},
{"u":472,"v":686.8,"u2":475,"v2":688.8},{"u":496,"v":678.5,"u2":499,"v2":680.5},{"u":520,"v":670.3,"u2":523,"v2":672.3},{"u":544,"v":662.1,"u2":547,"v2":664.1},{"u":568,"v":653.9,"u2":574,"v2":657.9},{"u":592,"v":645.6,"u2":595,"v2":647.6},{"u":616,"v":637.4,"u2":619,"v2":639.4},{"u":640,"v":629.2,"u2":643,"v2":631.2},{"u":664,"v":620.9,"u2":667,"v2":622.9},{"u":688,"v":612.7,"u2":694,"v2":616.7},{"u":712,"v":604.5,"u2":715,"v2":606.5},{"u":736,"v":596.2,"u2":739,"v2":598.2},{"u":760,"v":588,"u2":763,"v2":590},{"u":784,"v":579.8,"u2":787,"v2":581.8},{"u":808,"v":571.6,"u2":814,"v2":575.6},{"u":832,"v":563.3,"u2":835,"v2":565.3},
{"u":428,"v":683.6,"u2":423,"v2":685.3},{"u":409,"v":672.2,"u2":404,"v2":673.9},{"u":390,"v":660.8,"u2":385,"v2":662.5},{"u":371,"v":649.4,"u2":366,"v2":651.1},{"u":352,"v":638.1,"u2":342,"v2":641.6},{"u":333,"v":626.7,"u2":328,"v2":628.4},{"u":314,"v":615.3,"u2":309,"v2":617},{"u":295,"v":603.9,"u2":290,"v2":605.6},{"u":276,"v":592.5,"u2":271,"v2":594.2},{"u":257,"v":581.1,"u2":247,"v2":584.6},{"u":238,"v":569.7,"u2":233,"v2":571.4},{"u":219,"v":558.3,"u2":214,"v2":560},{"u":200,"v":546.9,"u2":195,"v2":548.6},{"u":181,"v":535.5,"u2":176,"v2":537.2},{"u":162,"v":524.2,"u2":152,"v2":527.7}],
"zlabels":[{"t":"0.2","u":134,"v":158},{"t":"0.15","u":134,"v":246},{"t":"0.1","u":134,"v":335},{"t":"0.05","u":134,"v":424},{"t":"0","u":134,"v":514}],
"tlabels":[{"t":"5","u":138,"v":566},{"t":"0","u":233,"v":623},{"t":"-5","u":322,"v":680},{"t":"-5","u":597,"v":697},{"t":"0","u":714,"v":652},{"t":"5","u":838,"v":610}],
"titles":[{"t":"Y axis","u":220,"v":742},{"t":"X axis","u":699,"v":750}],
"ztitle":[{"t":"Density Function","u":37,"v":331}],
"bands":[{"lo":0.0001,"hi":0.0028},{"lo":0.0028,"hi":0.0054},{"lo":0.0054,"hi":0.0079},{"lo":0.0079,"hi":0.0105},{"lo":0.0105,"hi":0.013},{"lo":0.013,"hi":0.0156},{"lo":0.0156,"hi":0.0181},{"lo":0.0181,"hi":0.0207},{"lo":0.0207,"hi":0.0232},{"lo":0.0232,"hi":0.0258},{"lo":0.0258,"hi":0.0283},{"lo":0.0283,"hi":0.0308},{"lo":0.0308,"hi":0.0334},{"lo":0.0334,"hi":0.0359},{"lo":0.0359,"hi":0.0385},{"lo":0.0385,"hi":0.041},{"lo":0.041,"hi":0.0436},{"lo":0.0436,"hi":0.0461},{"lo":0.0461,"hi":0.0487},{"lo":0.0487,"hi":0.0512},{"lo":0.0512,"hi":0.0537},{"lo":0.0537,"hi":0.0563},{"lo":0.0563,"hi":0.0588},{"lo":0.0588,"hi":0.0614},{"lo":0.0614,"hi":0.0639},{"lo":0.0639,"hi":0.0665},{"lo":0.0665,"hi":0.069},{"lo":0.069,"hi":0.0716},{"lo":0.0716,"hi":0.0741},{"lo":0.0741,"hi":0.0767},{"lo":0.0767,"hi":0.0792},{"lo":0.0792,"hi":0.0817},{"lo":0.0817,"hi":0.0843},{"lo":0.0843,"hi":0.0868},{"lo":0.0868,"hi":0.0894},{"lo":0.0894,"hi":0.0919},{"lo":0.0919,"hi":0.0945},{"lo":0.0945,"hi":0.097},{"lo":0.097,"hi":0.0996},{"lo":0.0996,"hi":0.1021},{"lo":0.1021,"hi":0.1046},{"lo":0.1046,"hi":0.1072},{"lo":0.1072,"hi":0.1097},{"lo":0.1097,"hi":0.1123},{"lo":0.1123,"hi":0.1148},{"lo":0.1148,"hi":0.1174},{"lo":0.1174,"hi":0.1199},{"lo":0.1199,"hi":0.1225},{"lo":0.1225,"hi":0.125},{"lo":0.125,"hi":0.1276},{"lo":0.1276,"hi":0.1301},{"lo":0.1301,"hi":0.1326},{"lo":0.1326,"hi":0.1352},{"lo":0.1352,"hi":0.1377},{"lo":0.1377,"hi":0.1403},{"lo":0.1403,"hi":0.1428},{"lo":0.1428,"hi":0.1454},{"lo":0.1454,"hi":0.1479},{"lo":0.1479,"hi":0.1505},{"lo":0.1505,"hi":0.153},{"lo":0.153,"hi":0.1555},{"lo":0.1555,"hi":0.1581},{"lo":0.1581,"hi":0.1606},{"lo":0.1606,"hi":0.1632}],
"frame":[{"lo":0.0001,"hi":0.1632}]
},
"hconcat":[
{"width":913,"height":769,
"encoding":{"x":{"field":"u","type":"quantitative","axis":null,"scale":{"domain":[0,913],"nice":false,"zero":false}},"y":{"field":"v","type":"quantitative","axis":null,"scale":{"domain":[769,0],"nice":false,"zero":false}}},
"layer":[
{"data":{"name":"floor"},"mark":{"type":"line","filled":true,"interpolate":"linear-closed","strokeWidth":0},"encoding":{"detail":{"field":"p"},"order":{"field":"i","type":"quantitative"},"fill":{"field":"l","type":"quantitative","legend":null,"scale":{"domain":[0.0003,0.0068,0.0133,0.0206,0.0312,0.0410,0.0507,0.0613,0.0719,0.0814,0.0914,0.1020,0.1125,0.1223,0.1337,0.1402,0.1516,0.1630],"range":["#352A87","#343597","#2A45C0","#0363E1","#0D75DC","#1485D4","#0D99CE","#06A7C6","#1FB3B3","#38B99E","#5FBD88","#92BF73","#B9BD62","#D9BA56","#F0B445","#FDB432","#F6D625","#F9FB0E"]}}}},
{"data":{"name":"mass"},"mark":{"type":"line","filled":true,"color":"#ff0000","interpolate":"linear-closed"},"encoding":{"detail":{"field":"p"},"order":{"field":"i","type":"quantitative"}}},
{"data":{"name":"pts"},"mark":{"type":"circle","size":46,"color":"#ff0000","opacity":1}},
{"data":{"name":"rules"},"mark":{"type":"rule","color":"#262626","strokeWidth":1.6},"encoding":{"x2":{"field":"u2"},"y2":{"field":"v2"}}},
{"data":{"name":"zlabels"},"mark":{"type":"text","align":"right","baseline":"middle","fontSize":40,"color":"#262626"},"encoding":{"text":{"field":"t"}}},
{"data":{"name":"tlabels"},"mark":{"type":"text","align":"center","baseline":"middle","fontSize":40,"color":"#262626"},"encoding":{"text":{"field":"t"}}},
{"data":{"name":"titles"},"mark":{"type":"text","align":"center","baseline":"middle","fontSize":44,"color":"#262626"},"encoding":{"text":{"field":"t"}}},
{"data":{"name":"ztitle"},"mark":{"type":"text","align":"center","baseline":"alphabetic","angle":270,"fontSize":44,"color":"#262626"},"encoding":{"text":{"field":"t"}}}
]},
{"width":53,"height":769,
"encoding":{"y":{"field":"lo","type":"quantitative","axis":{"orient":"right","title":null,"values":[0.02,0.04,0.06,0.08,0.1,0.12,0.14,0.16],"format":".2~f","grid":false,"domain":false,"zindex":1,"tickSize":-7,"tickColor":"#262626","tickWidth":1,"labelPadding":19,"labelFontSize":35,"labelColor":"#262626","labelFont":"Liberation Sans","labelOverlap":false,"labelBound":false,"labelFlush":false},"scale":{"domain":[-0.01755,0.16555],"nice":false,"zero":false}},"y2":{"field":"hi"}},
"layer":[
{"data":{"name":"bands"},"mark":{"type":"rect"},"encoding":{"fill":{"field":"lo","type":"quantitative","legend":null,"scale":{"domain":[0.0003,0.0068,0.0133,0.0206,0.0312,0.0410,0.0507,0.0613,0.0719,0.0814,0.0914,0.1020,0.1125,0.1223,0.1337,0.1402,0.1516,0.1630],"range":["#352A87","#343597","#2A45C0","#0363E1","#0D75DC","#1485D4","#0D99CE","#06A7C6","#1FB3B3","#38B99E","#5FBD88","#92BF73","#B9BD62","#D9BA56","#F0B445","#FDB432","#F6D625","#F9FB0E"]}},"stroke":{"field":"lo","type":"quantitative","legend":null,"scale":{"domain":[0.0003,0.0068,0.0133,0.0206,0.0312,0.0410,0.0507,0.0613,0.0719,0.0814,0.0914,0.1020,0.1125,0.1223,0.1337,0.1402,0.1516,0.1630],"range":["#352A87","#343597","#2A45C0","#0363E1","#0D75DC","#1485D4","#0D99CE","#06A7C6","#1FB3B3","#38B99E","#5FBD88","#92BF73","#B9BD62","#D9BA56","#F0B445","#FDB432","#F6D625","#F9FB0E"]}}}},
{"data":{"name":"frame"},"mark":{"type":"rect","fillOpacity":0,"stroke":"#262626","strokeWidth":1.2}}
],"resolve":{"scale":{"fill":"shared","stroke":"shared"}}}
]}
